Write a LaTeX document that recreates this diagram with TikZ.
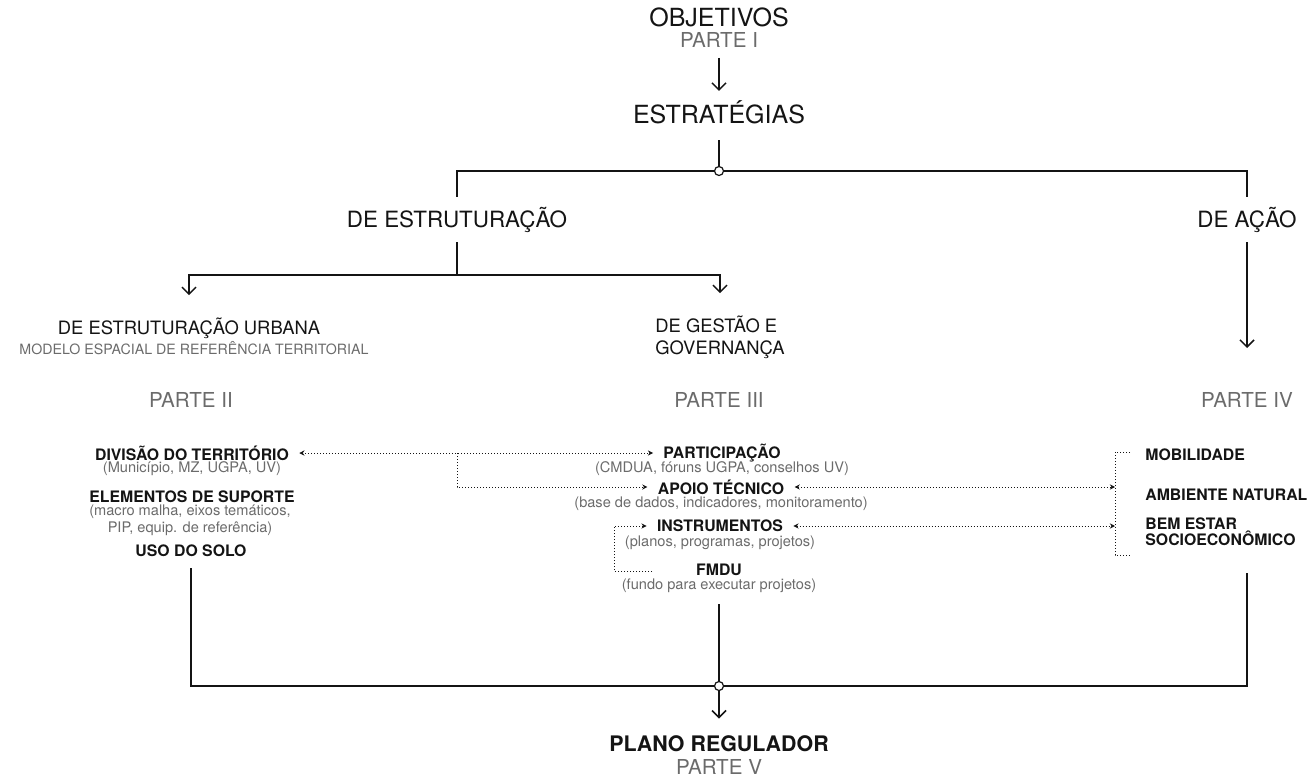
\documentclass[tikz,border=0pt]{standalone}
\usepackage{fontspec}
\setmainfont{TeX Gyre Heros}
\usetikzlibrary{arrows.meta}
\definecolor{ink}{HTML}{141414}
\definecolor{fade}{HTML}{6B6B6B}

\begin{document}
\begin{tikzpicture}[x=0.5pt,y=-0.5pt,
    every node/.style={inner sep=0pt,text=ink},
    big/.style={font=\fontsize{12.5}{15}\selectfont},
    mid/.style={font=\fontsize{11.2}{14}\selectfont},
    small/.style={font=\fontsize{9.2}{11}\selectfont,align=left},
    parte/.style={font=\fontsize{10.3}{12}\selectfont,text=fade},
    item/.style={font=\bfseries\fontsize{7.9}{8.1}\selectfont,inner xsep=5pt,align=left},
    sub/.style={font=\fontsize{7.3}{8.5}\selectfont,text=fade,align=center},
    conn/.style={draw=ink,line width=0.75pt},
    arr/.style={conn,-{Straight Barb[length=3.5pt,width=7pt]}},
    dot/.style={circle,draw=ink,fill=white,line width=0.6pt,minimum size=4.5pt},
    dots/.style={draw=ink,line width=0.5pt,densely dotted},
    tip/.style={-{Stealth[length=2.6pt,width=2.6pt]}},
    dotarr/.style={dots,{Stealth[length=2.6pt,width=2.6pt]}-{Stealth[length=2.6pt,width=2.6pt]}},
    ]
    \useasboundingbox (0,0) rectangle (1310,777);

    \node[big] (obj) at (719,17) {OBJETIVOS};
    \node[parte] (p1) at (719,40) {PARTE I};
    \node[big] (estr) at (719,112) {ESTRATÉGIAS};
    \node[dot] (j1) at (719,171) {};
    \node[mid] (destr) at (457,220) {DE ESTRUTURAÇÃO};
    \node[mid] (acao) at (1247,220) {DE AÇÃO};
    \coordinate (j2) at (457,275);
    \coordinate (acaoend) at (1247,348);

    \node[small] (urb) at (189,328) {DE ESTRUTURAÇÃO URBANA};
    \node[sub,font=\fontsize{7.1}{8}\selectfont] (modelo) at (194,348) {MODELO ESPACIAL DE REFERÊNCIA TERRITORIAL};
    \node[small] (gest) at (720,337) {DE GESTÃO E\\GOVERNANÇA};

    \foreach \n/\x/\t in {p2/191/II, p3/719/III, p4/1247/IV}
        \node[parte] (\n) at (\x,400) {PARTE \t};

    \node[item] (div) at (192,453) {DIVISÃO DO TERRITÓRIO};
    \node[sub] (divsub) at (192,469) {(Município, MZ, UGPA, UV)};
    \node[item] (ele) at (192,497) {ELEMENTOS DE SUPORTE};
    \node[sub] (elesub) at (190,520) {(macro malha, eixos temáticos,\\PIP, equip. de referência)};
    \node[item] (uso) at (191,551) {USO DO SOLO};

    \node[item] (part) at (722,453) {PARTICIPAÇÃO};
    \node[sub] (partsub) at (722,469) {(CMDUA, fóruns UGPA, conselhos UV)};
    \node[item] (apoio) at (721,487) {APOIO TÉCNICO};
    \node[sub] (apoiosub) at (721,504) {(base de dados, indicadores, monitoramento)};
    \node[item] (instr) at (720,526) {INSTRUMENTOS};
    \node[sub] (instrsub) at (720,543) {(planos, programas, projetos)};
    \node[item] (fmdu) at (719,570) {FMDU};
    \node[sub] (fmdusub) at (719,586) {(fundo para executar projetos)};

    \node[item,anchor=west] (mob) at (1135,455) {MOBILIDADE};
    \node[item,anchor=west] (amb) at (1135,495) {AMBIENTE NATURAL};
    \node[item,anchor=west] (socio) at (1135,532) {BEM ESTAR\\SOCIOECONÔMICO};

    \node[dot] (jb) at (719,686) {};
    \node[font=\bfseries\fontsize{10.7}{13}\selectfont] (plano) at (719,744) {PLANO REGULADOR};
    \node[parte] (p5) at (719,767) {PARTE V};

    \draw[arr,shorten <=5pt,shorten >=4.5pt] (p1) -- (estr);
    \draw[conn,shorten <=8pt] (estr) -- (j1);
    \draw[conn,shorten >=5pt] (j1) -| (destr);
    \draw[conn,shorten >=5pt] (j1) -| (acao);
    \draw[conn,shorten <=4.5pt] (destr) -- (j2);
    \draw[arr,shorten >=11pt] (j2) -| (urb);
    \draw[arr,shorten >=11pt] (j2) -| (gest);
    \draw[arr,shorten <=4.5pt] (acao) -- (acaoend);

    \coordinate (br) at (destr |- div);
    \coordinate (brk) at (1115,452);
    \coordinate (brkb) at (1115,555);
    \coordinate (fstub) at (652,571);
    \coordinate (floop) at (614,571);
    \draw[dotarr] (div) -- (part);
    \draw[dots,tip] (br) |- (apoio);
    \draw[dotarr] (apoio) -- (apoio -| brk);
    \draw[dotarr] (instr) -- (instr -| brk);
    \draw[dots] ([xshift=7.5pt]brk) -- (brk) -- (brkb) -- ([xshift=7.5pt]brkb);
    \draw[dots,tip] (fstub) -- (floop) |- (instr);

    \draw[conn,shorten <=5.5pt] (uso) |- (jb);
    \draw[conn,shorten <=5.5pt] (fmdusub) -- (jb);
    \draw[conn,shorten <=13.5pt] (socio.south -| acao) |- (jb);
    \draw[arr,shorten >=8.5pt] (jb) -- (plano);
\end{tikzpicture}
\end{document}
